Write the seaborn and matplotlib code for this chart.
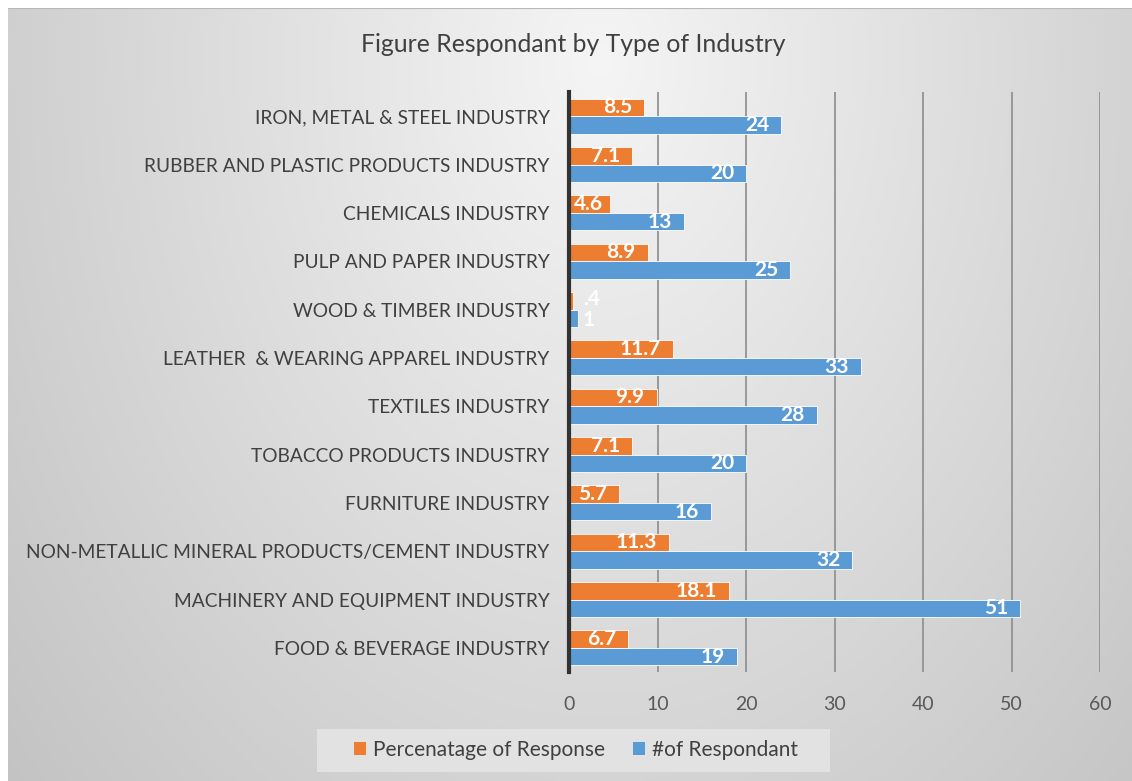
import numpy as np
import pandas as pd
import matplotlib
matplotlib.use("Agg")
import matplotlib.pyplot as plt
from matplotlib.patches import Patch, Rectangle
import seaborn as sns

# Industries, listed top to bottom
industries = [
    "IRON, METAL & STEEL INDUSTRY",
    "RUBBER AND PLASTIC PRODUCTS INDUSTRY",
    "CHEMICALS INDUSTRY",
    "PULP AND PAPER INDUSTRY",
    "WOOD & TIMBER INDUSTRY",
    "LEATHER  & WEARING APPAREL INDUSTRY",
    "TEXTILES INDUSTRY",
    "TOBACCO PRODUCTS INDUSTRY",
    "FURNITURE INDUSTRY",
    "NON-METALLIC MINERAL PRODUCTS/CEMENT INDUSTRY",
    "MACHINERY AND EQUIPMENT INDUSTRY",
    "FOOD & BEVERAGE INDUSTRY",
]
pct_response = [8.5, 7.1, 4.6, 8.9, 0.4, 11.7, 9.9, 7.1, 5.7, 11.3, 18.1, 6.7]
pct_labels = ["8.5", "7.1", "4.6", "8.9", ".4", "11.7", "9.9", "7.1", "5.7", "11.3", "18.1", "6.7"]
n_respondants = [24, 20, 13, 25, 1, 33, 28, 20, 16, 32, 51, 19]
series_names = ["Percenatage of Response", "#of Respondant"]
x_ticks = [0, 10, 20, 30, 40, 50, 60]

ORANGE = "#ED7D31"
BLUE = "#5B9BD5"
TEXT = "#404040"

df = pd.DataFrame({
    "industry": industries * 2,
    "series": [series_names[0]] * len(industries) + [series_names[1]] * len(industries),
    "value": pct_response + n_respondants,
})

sns.set_theme(style="white")
plt.rcParams["font.family"] = ["Lato", "DejaVu Sans"]

W, H = 1132, 781
fig = plt.figure(figsize=(W / 100, H / 100), dpi=100, facecolor="white")

# Soft radial gradient backdrop of the chart area
bg = fig.add_axes([8 / W, 0, 1 - 8 / W, 1 - 8 / H], zorder=-10)
gx = np.linspace(8, W, 400)
gy = np.linspace(8, H, 300)
XX, YY = np.meshgrid(gx, gy)
r = np.sqrt(((XX - 600) / 650) ** 2 + ((YY - 60) / 900) ** 2)
gray = np.clip(0.96 - 0.16 * r, 0, 1)
bg.imshow(np.dstack([gray, gray, gray]), aspect="auto", extent=[0, 1, 0, 1],
          interpolation="bilinear")
bg.axhline(1, color="#b8b8b8", lw=1.5)
bg.set_axis_off()

ax = fig.add_axes([569 / W, 1 - 672 / H, (1100 - 569) / W, (672 - 92) / H])
ax.set_facecolor("none")

sns.barplot(data=df, y="industry", x="value", hue="series", orient="h",
            order=industries, hue_order=series_names,
            palette=[ORANGE, BLUE], saturation=1, width=0.72, dodge=True,
            edgecolor="#ffffff", linewidth=0.6, legend=False, ax=ax)

ax.set_xlim(0, 60)
ax.set_xticks(x_ticks)
ax.set_xticklabels([str(t) for t in x_ticks])
ax.set_xlabel("")
ax.set_ylabel("")
ax.grid(axis="x", color="#939393", lw=1.3)
ax.grid(axis="y", visible=False)
ax.set_axisbelow(True)
for side in ["top", "right", "bottom"]:
    ax.spines[side].set_visible(False)
ax.spines["left"].set_color("#333333")
ax.spines["left"].set_linewidth(3)
ax.tick_params(axis="x", length=0, pad=17, labelsize=14, labelcolor="#595959")
ax.tick_params(axis="y", length=0, pad=14, labelsize=13.75, labelcolor=TEXT)

# Value labels at the inner end of each bar; short bars get them beside the axis
label_sets = [pct_labels, [str(v) for v in n_respondants]]
value_sets = [pct_response, n_respondants]
nudge = [2, -2]  # keep stacked labels of tiny bars apart
px_per_unit = (1100 - 569) / 60
for k, (cont, labels, vals) in enumerate(zip(ax.containers, label_sets, value_sets)):
    for bar, lab, v in zip(cont, labels, vals):
        yc = bar.get_y() + bar.get_height() / 2
        est_w = 10 * len(lab)
        if v * px_per_unit - 12 - est_w < 4:
            tiny = v <= 2
            ax.annotate(lab, (0, yc), xytext=(14 if tiny else 5, nudge[k] if tiny else 0),
                        textcoords="offset pixels", ha="left", va="center",
                        color="white", fontsize=15, fontweight="bold")
        else:
            ax.annotate(lab, (v, yc), xytext=(-12, 0),
                        textcoords="offset pixels", ha="right", va="center",
                        color="white", fontsize=15, fontweight="bold")

fig.text(573 / W, 1 - 45 / H, "Figure Respondant by Type of Industry",
         ha="center", va="center", fontsize=17.8, color=TEXT)

# Legend panel
fig.patches.append(Rectangle((317 / W, 1 - 772 / H), (830 - 317) / W, 43 / H,
                             transform=fig.transFigure, facecolor="#e2e2e2",
                             edgecolor="none", zorder=-5))
handles = [Patch(facecolor=ORANGE, edgecolor="none"),
           Patch(facecolor=BLUE, edgecolor="none")]
leg = fig.legend(handles, series_names, loc="center",
                 bbox_to_anchor=(576 / W, 1 - 750 / H), ncol=2,
                 frameon=False, fontsize=15, handlelength=0.6, handleheight=0.6,
                 handletextpad=0.35, columnspacing=1.3, labelcolor=TEXT)

fig.savefig("out.png", dpi=100, facecolor="white")
